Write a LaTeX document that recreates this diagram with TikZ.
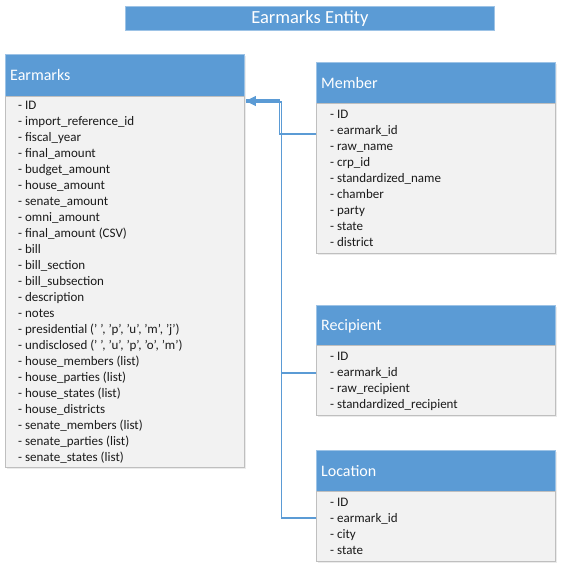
\documentclass[tikz,border=0pt]{standalone}
\usepackage{fontspec}
\setmainfont{Carlito}
\usetikzlibrary{arrows.meta,calc}
\definecolor{hdrblue}{HTML}{5B9BD5}
\definecolor{hdrline}{HTML}{9DC3E6}
\definecolor{bodyfill}{HTML}{F2F2F2}
\definecolor{bodyline}{HTML}{BFBFBF}
\definecolor{txt}{HTML}{1A1A1A}
\definecolor{connblue}{HTML}{5B9BD5}
\tikzset{
  hdrbox/.style={draw=hdrline, line width=0.8pt, fill=hdrblue, anchor=north west, inner sep=0pt},
  bodybox/.style={draw=bodyline, line width=0.8pt, fill=bodyfill, anchor=north west, inner sep=0pt},
  hdrtext/.style={text=white, anchor=west, inner sep=0pt, font=\fontsize{16}{18}\selectfont},
  listtext/.style={text=txt, anchor=north west, inner sep=0pt, align=left, font=\fontsize{13}{16}\selectfont},
  conn/.style={draw=connblue, line width=1.1pt},
  shadowbox/.style={fill=black!8, anchor=north west, inner sep=0pt}
}
\begin{document}
\begin{tikzpicture}[x=1pt,y=-1pt]
\useasboundingbox (0,0) rectangle (561,569);
% title
\node[hdrbox, minimum width=369, minimum height=24] (title) at (125,6) {};
\node[text=white, font=\fontsize{18.5}{20}\selectfont, inner sep=0pt] (titletext) at (title.center) {Earmarks Entity};

% shadows
\node[shadowbox, minimum width=239, minimum height=413] (esh) at (7,56) {};
\node[shadowbox, minimum width=239, minimum height=191] (msh) at (318,64) {};
\node[shadowbox, minimum width=239, minimum height=110] (rsh) at (318,307) {};
\node[shadowbox, minimum width=239, minimum height=111] (lsh) at (318,452) {};

% Earmarks
\node[hdrbox, minimum width=239, minimum height=42] (ehead) at (5,54) {};
\node[bodybox, minimum width=239, minimum height=371] (ebody) at (5,96) {};
\node[hdrtext] (etitle) at (10,75) {Earmarks};
\node[listtext] (elist) at (18,101) {- ID\\- import\_reference\_id\\- fiscal\_year\\- final\_amount\\- budget\_amount\\- house\_amount\\- senate\_amount\\- omni\_amount\\- final\_amount (CSV)\\- bill\\- bill\_section\\- bill\_subsection\\- description\\- notes\\- presidential (' ', 'p', 'u', 'm', 'j')\\- undisclosed (' ', 'u', 'p', 'o', 'm')\\- house\_members (list)\\- house\_parties (list)\\- house\_states (list)\\- house\_districts\\- senate\_members (list)\\- senate\_parties (list)\\- senate\_states (list)};

% Member
\node[hdrbox, minimum width=239, minimum height=41] (mhead) at (316,62) {};
\node[bodybox, minimum width=239, minimum height=150] (mbody) at (316,103) {};
\node[hdrtext] (mtitle) at (321,83) {Member};
\node[listtext] (mlist) at (330,110) {- ID\\- earmark\_id\\- raw\_name\\- crp\_id\\- standardized\_name\\- chamber\\- party\\- state\\- district};

% Recipient
\node[hdrbox, minimum width=239, minimum height=40] (rhead) at (316,305) {};
\node[bodybox, minimum width=239, minimum height=70] (rbody) at (316,345) {};
\node[hdrtext] (rtitle) at (321,326) {Recipient};
\node[listtext] (rlist) at (330,352) {- ID\\- earmark\_id\\- raw\_recipient\\- standardized\_recipient};

% Location
\node[hdrbox, minimum width=239, minimum height=41] (lhead) at (316,450) {};
\node[bodybox, minimum width=239, minimum height=70] (lbody) at (316,491) {};
\node[hdrtext] (ltitle) at (321,471) {Location};
\node[listtext] (llist) at (330,498) {- ID\\- earmark\_id\\- city\\- state};

% connectors
\coordinate (ea1) at ($(ebody.north east)+(1,4)$);
\coordinate (ea2) at ($(ebody.north east)+(1,6)$);
\coordinate (m1) at ($(mbody.north west)+(0,31)$);
\coordinate (r1) at ($(rbody.north west)+(0,28)$);
\coordinate (l1) at ($(lbody.north west)+(0,27)$);
\draw[conn] (l1) -| ($(ea2)+(36,0)$) -- (ea2);
\draw[conn] (r1) -| ($(ea2)+(36,0)$);
\draw[conn] (m1) -| ($(ea1)+(34,0)$) -- (ea1);
\draw[conn, -{Triangle[length=10pt,width=10pt]}] ($(ea1)+(12,1)$) -- ($(ea1)+(0,1)$);
\end{tikzpicture}
\end{document}
